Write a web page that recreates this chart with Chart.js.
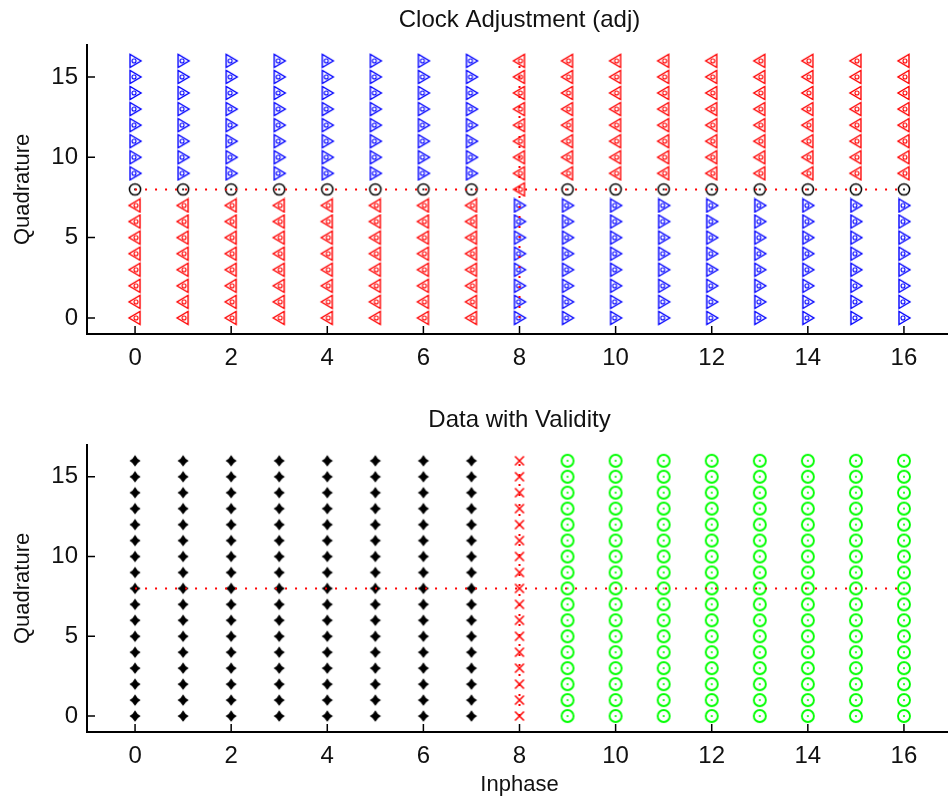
<!DOCTYPE html>
<html>
<head>
<meta charset="utf-8">
<script src="https://cdn.jsdelivr.net/npm/chart.js@4.4.0/dist/chart.umd.min.js"></script>
<style>
html,body{margin:0;padding:0;overflow:hidden;background:#fff;width:948px;height:800px}
#wrap{position:relative;width:960px;height:800px}
canvas{display:block}
</style>
</head>
<body>
<div id="wrap">
<canvas id="cTop" width="960" height="400"></canvas>
<canvas id="cBot" width="960" height="400"></canvas>
</div>
<script>
// ---------------- data ----------------
const inphaseValues = [0,1,2,3,4,5,6,7,8,9,10,11,12,13,14,15,16];
// rows listed from top (Q=16) to bottom (Q=0)
const quadratureValues = [16,15,14,13,12,11,10,9,8,7,6,5,4,3,2,1,0];
// '>' = blue right triangle, '<' = red left triangle, 'o' = black circle
const adjGrid = [
  ">>>>>>>><<<<<<<<<",
  ">>>>>>>><<<<<<<<<",
  ">>>>>>>><<<<<<<<<",
  ">>>>>>>><<<<<<<<<",
  ">>>>>>>><<<<<<<<<",
  ">>>>>>>><<<<<<<<<",
  ">>>>>>>><<<<<<<<<",
  ">>>>>>>><<<<<<<<<",
  "oooooooo<oooooooo",
  "<<<<<<<<>>>>>>>>>",
  "<<<<<<<<>>>>>>>>>",
  "<<<<<<<<>>>>>>>>>",
  "<<<<<<<<>>>>>>>>>",
  "<<<<<<<<>>>>>>>>>",
  "<<<<<<<<>>>>>>>>>",
  "<<<<<<<<>>>>>>>>>",
  "<<<<<<<<>>>>>>>>>"
];
// 'd' = black diamond, 'x' = red cross, 'o' = green circle
const validityGrid = [
  "ddddddddxoooooooo",
  "ddddddddxoooooooo",
  "ddddddddxoooooooo",
  "ddddddddxoooooooo",
  "ddddddddxoooooooo",
  "ddddddddxoooooooo",
  "ddddddddxoooooooo",
  "ddddddddxoooooooo",
  "ddddddddxoooooooo",
  "ddddddddxoooooooo",
  "ddddddddxoooooooo",
  "ddddddddxoooooooo",
  "ddddddddxoooooooo",
  "ddddddddxoooooooo",
  "ddddddddxoooooooo",
  "ddddddddxoooooooo",
  "ddddddddxoooooooo"
];
const xTickValues = [0,2,4,6,8,10,12,14,16];
const yTickValues = [0,5,10,15];
const axisRange = [-1, 17];
const refLevel = 8;          // dotted threshold lines
const refSpan = [0, 16];
const topTitle = "Clock Adjustment (adj)";
const botTitle = "Data with Validity";
const xLabel = "Inphase";
const yLabel = "Quadrature";

// ---------------- marker images ----------------
function mk(w,h,fn){const c=document.createElement('canvas');c.width=w;c.height=h;const g=c.getContext('2d');fn(g);return c;}
const mRight = mk(16,16,g=>{
  g.strokeStyle='#0000ff';g.lineWidth=1.4;g.lineJoin='miter';
  g.beginPath();g.moveTo(3,1.5);g.lineTo(3,14.5);g.lineTo(14,8);g.closePath();g.stroke();
  g.beginPath();g.arc(7,8,2,0,Math.PI*2);g.lineWidth=1.1;g.stroke();
});
const mLeft = mk(16,16,g=>{
  g.strokeStyle='#ff0000';g.lineWidth=1.4;
  g.beginPath();g.moveTo(13,1.5);g.lineTo(13,14.5);g.lineTo(2,8);g.closePath();g.stroke();
  g.beginPath();g.arc(9,8,2,0,Math.PI*2);g.lineWidth=1.1;g.stroke();
});
function circ(color,r,lw){
  return mk(16,16,g=>{
    g.strokeStyle=color;g.lineWidth=lw;
    g.beginPath();g.arc(8,8,r,0,Math.PI*2);g.stroke();
    g.fillStyle=color;g.beginPath();g.arc(8,8,1.1,0,Math.PI*2);g.fill();
  });
}
const mCircBlack = circ('#000000',5.6,1.5);
const mCircGreen = circ('#00ff00',6,1.9);
const mDiamond = mk(14,14,g=>{
  g.fillStyle='#000';g.beginPath();
  g.moveTo(7,1.2);g.quadraticCurveTo(8.9,5.1,12.6,7);g.quadraticCurveTo(8.9,8.9,7,12.8);
  g.quadraticCurveTo(5.1,8.9,1.4,7);g.quadraticCurveTo(5.1,5.1,7,1.2);g.closePath();g.fill();
});
const mCross = mk(12,12,g=>{
  g.strokeStyle='#ff0000';g.lineWidth=1.5;g.beginPath();
  g.moveTo(1.5,1.5);g.lineTo(10.5,10.5);g.moveTo(10.5,1.5);g.lineTo(1.5,10.5);g.stroke();
});

function pointsFor(grid, ch){
  const pts=[];
  grid.forEach((row,r)=>{
    for(let c=0;c<row.length;c++){
      if(row[c]===ch) pts.push({x:inphaseValues[c], y:quadratureValues[r]});
    }
  });
  return pts;
}
function markerSet(grid,ch,img){
  return {type:'scatter',data:pointsFor(grid,ch),pointStyle:img,pointRadius:7,
          pointHoverRadius:7,showLine:false,order:1};
}
function refLines(){
  const common={type:'line',showLine:true,borderColor:'#ff0000',borderWidth:2,
    borderDash:[2,8],pointRadius:0,fill:false,order:0,tension:0};
  return [
    Object.assign({data:[{x:refSpan[0],y:refLevel},{x:refSpan[1],y:refLevel}]},common),
    Object.assign({data:[{x:refLevel,y:refSpan[0]},{x:refLevel,y:refSpan[1]}]},common)
  ];
}

const FONT='"Liberation Sans", Arial, Helvetica, sans-serif';
const innerTicks = {
  id:'innerTicks',
  afterDraw(chart){
    const {ctx, chartArea:a, scales:{x,y}} = chart;
    ctx.save();ctx.strokeStyle='#000';ctx.lineWidth=1.5;ctx.beginPath();
    x.ticks.forEach(t=>{const p=x.getPixelForValue(t.value);ctx.moveTo(p,a.bottom);ctx.lineTo(p,a.bottom-8);});
    y.ticks.forEach(t=>{const p=y.getPixelForValue(t.value);ctx.moveTo(a.left,p);ctx.lineTo(a.left+8,p);});
    ctx.stroke();ctx.restore();
  }
};

function config(datasets, title, xTitle, xHeight){
  return {
    type:'scatter',
    data:{datasets},
    options:{
      responsive:false, animation:false, devicePixelRatio:1,
      layout:{padding:{left:0,right:6,top:0,bottom:0}},
      plugins:{
        legend:{display:false}, tooltip:{enabled:false},
        title:{display:true,text:title,fullSize:false,color:'#111',
          font:{family:FONT,size:24,weight:'normal'},padding:{top:6,bottom:10}}
      },
      scales:{
        x:{type:'linear',min:axisRange[0],max:axisRange[1],
          afterBuildTicks:s=>{s.ticks=xTickValues.map(v=>({value:v}));},
          afterFit:s=>{s.height=xHeight;},
          grid:{display:false,drawTicks:false},border:{display:true,color:'#000',width:2},
          ticks:{padding:10,color:'#111',font:{family:FONT,size:24},callback:v=>String(v),maxRotation:0,autoSkip:false},
          title:{display:!!xTitle,text:xTitle||'',color:'#111',font:{family:FONT,size:22},padding:{top:0,bottom:2}}
        },
        y:{type:'linear',min:axisRange[0],max:axisRange[1],
          afterBuildTicks:s=>{s.ticks=yTickValues.map(v=>({value:v}));},
          afterFit:s=>{s.width=87;},
          grid:{display:false,drawTicks:false},border:{display:true,color:'#000',width:2},
          ticks:{padding:9,color:'#111',font:{family:FONT,size:24},callback:v=>String(v),autoSkip:false},
          title:{display:true,text:yLabel,color:'#111',font:{family:FONT,size:22},padding:{top:10,bottom:0}}
        }
      }
    },
    plugins:[innerTicks]
  };
}

const topSets = refLines().concat([
  markerSet(adjGrid,'>',mRight),
  markerSet(adjGrid,'<',mLeft),
  markerSet(adjGrid,'o',mCircBlack)
]);
const botSets = refLines().concat([
  markerSet(validityGrid,'d',mDiamond),
  markerSet(validityGrid,'x',mCross),
  markerSet(validityGrid,'o',mCircGreen)
]);

new Chart(document.getElementById('cTop'), config(topSets, topTitle, null, 66));
new Chart(document.getElementById('cBot'), config(botSets, botTitle, xLabel, 68));
</script>
</body>
</html>
